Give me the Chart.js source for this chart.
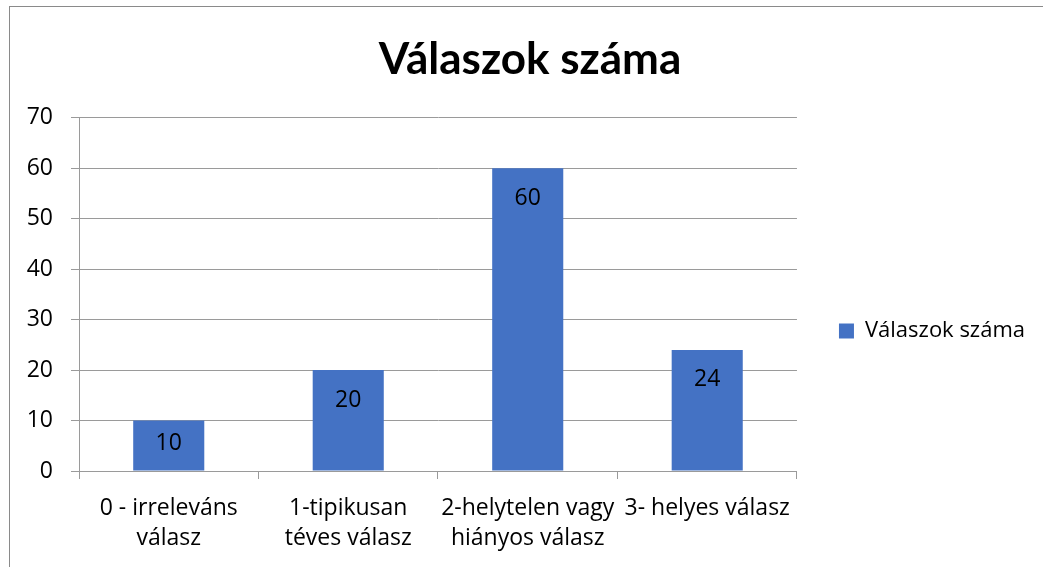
<html>
<head>
<script src="https://cdn.jsdelivr.net/npm/chart.js"></script>
<style>
body { margin: 0; background: #fff; }
#frame { position: absolute; left: 9px; top: 6px; width: 1100px; height: 600px; border-left: 1px solid #8a8a8a; border-top: 1px solid #8a8a8a; }
#box { position: absolute; left: 0; top: 0; width: 1043px; height: 567px; }
</style>
</head>
<body>
<div id="frame"></div>
<div id="box"><canvas id="myChart"></canvas></div>

<script>
// data
categories = [['0 - irreleváns', 'válasz'], ['1-tipikusan', 'téves válasz'], ['2-helytelen vagy', 'hiányos válasz'], '3- helyes válasz']
valaszok = [10, 20, 60, 24]
seriesName = 'Válaszok száma'
chartTitle = 'Válaszok száma'
yTicks = [0, 10, 20, 30, 40, 50, 60, 70]

axisFont = { family: 'Open Sans', size: 23 }
gridGray = '#9a9a9a'

// labels inside the top of each bar
barLabels = {
  id: 'barLabels',
  afterDatasetsDraw(chart) {
    const ctx = chart.ctx
    const meta = chart.getDatasetMeta(0)
    ctx.save()
    ctx.font = '23px "Open Sans"'
    ctx.fillStyle = '#000'
    ctx.textAlign = 'center'
    ctx.textBaseline = 'middle'
    meta.data.forEach((bar, i) => {
      const h = bar.base - bar.y
      const off = Math.min(30, h / 2 - 2)
      ctx.fillText(String(valaszok[i]), bar.x, bar.y + off)
    })
    ctx.restore()
  }
}

const config = {
  type: 'bar',
  data: {
    labels: categories,
    datasets: [{
      label: seriesName,
      data: valaszok,
      backgroundColor: '#4472C4',
      borderWidth: 0,
      barPercentage: 0.396,
      categoryPercentage: 1
    }]
  },
  options: {
    responsive: true,
    maintainAspectRatio: false,
    animation: false,
    layout: { padding: { left: 25, right: 8, top: 0, bottom: 0 } },
    plugins: {
      title: {
        display: true,
        text: chartTitle,
        color: '#000',
        font: { family: 'Lato', size: 44, weight: 'bold', lineHeight: 1.2 },
        padding: { top: 33, bottom: 32 }
      },
      legend: {
        position: 'right',
        align: 'start',
        title: { display: true, text: '', font: { size: 10, lineHeight: 2 }, padding: { top: 258, bottom: 0 } },
        labels: {
          boxWidth: 15,
          boxHeight: 15,
          padding: 42,
          color: '#000',
          font: { family: 'Open Sans', size: 22 }
        }
      },
      tooltip: { enabled: false }
    },
    scales: {
      x: {
        grid: { offset: true, drawOnChartArea: false, color: gridGray, tickLength: 8 },
        border: { color: gridGray },
        ticks: { color: '#000', font: Object.assign({ lineHeight: 1.32 }, axisFont), padding: 14, autoSkip: false, maxRotation: 0, minRotation: 0 },
        afterFit(scale) { scale.height = 96 }
      },
      y: {
        min: yTicks[0],
        max: yTicks[yTicks.length - 1],
        grid: { color: gridGray, tickLength: 8 },
        border: { color: gridGray },
        ticks: { color: '#000', font: axisFont, padding: 18, stepSize: yTicks[1] - yTicks[0] },
        afterFit(scale) { scale.width = 54 }
      }
    }
  },
  plugins: [barLabels]
}

const myChart = new Chart(document.getElementById('myChart'), config)
</script>
</body>
</html>
